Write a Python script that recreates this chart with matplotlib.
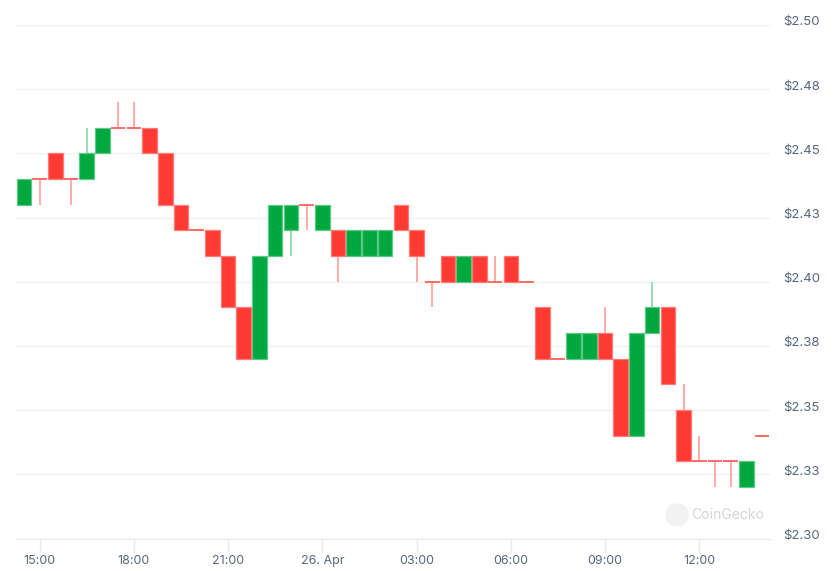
import matplotlib
matplotlib.use("Agg")
import matplotlib.pyplot as plt
import matplotlib.dates as mdates
import matplotlib.transforms as mtransforms
from matplotlib.patches import Circle
import numpy as np
import datetime as dt

# 30-minute candles, first one at 25 Apr 14:30
start = dt.datetime(2025, 4, 25, 14, 30)
opens = [2.43, 2.44, 2.45, 2.44, 2.44, 2.45, 2.46, 2.46, 2.46, 2.45, 2.43, 2.42,
         2.42, 2.41, 2.39, 2.37, 2.41, 2.42, 2.43, 2.42, 2.42, 2.41, 2.41, 2.41,
         2.43, 2.42, 2.40, 2.41, 2.40, 2.41, 2.40, 2.41, 2.40, 2.39, 2.37, 2.37,
         2.37, 2.38, 2.37, 2.34, 2.38, 2.39, 2.35, 2.33, 2.33, 2.33, 2.32, 2.34]
highs = [2.44, 2.44, 2.45, 2.44, 2.46, 2.46, 2.47, 2.47, 2.46, 2.45, 2.43, 2.42,
         2.42, 2.41, 2.39, 2.41, 2.43, 2.43, 2.43, 2.43, 2.42, 2.42, 2.42, 2.42,
         2.43, 2.42, 2.40, 2.41, 2.41, 2.41, 2.41, 2.41, 2.40, 2.39, 2.37, 2.38,
         2.38, 2.39, 2.37, 2.38, 2.40, 2.39, 2.36, 2.34, 2.33, 2.33, 2.33, 2.34]
lows = [2.43, 2.43, 2.44, 2.43, 2.44, 2.45, 2.46, 2.46, 2.45, 2.43, 2.42, 2.42,
        2.41, 2.39, 2.37, 2.37, 2.41, 2.41, 2.42, 2.42, 2.40, 2.41, 2.41, 2.41,
        2.42, 2.40, 2.39, 2.40, 2.40, 2.40, 2.40, 2.40, 2.40, 2.37, 2.37, 2.37,
        2.37, 2.37, 2.34, 2.34, 2.38, 2.36, 2.33, 2.33, 2.32, 2.32, 2.32, 2.34]
closes = [2.44, 2.44, 2.44, 2.44, 2.45, 2.46, 2.46, 2.46, 2.45, 2.43, 2.42, 2.42,
          2.41, 2.39, 2.37, 2.41, 2.43, 2.43, 2.43, 2.43, 2.41, 2.42, 2.42, 2.42,
          2.42, 2.41, 2.40, 2.40, 2.41, 2.40, 2.40, 2.40, 2.40, 2.37, 2.37, 2.38,
          2.38, 2.37, 2.34, 2.38, 2.39, 2.36, 2.33, 2.33, 2.33, 2.33, 2.33, 2.34]

yticks = [2.30, 2.325, 2.35, 2.375, 2.40, 2.425, 2.45, 2.475, 2.50]
ytick_labels = ["$2.30", "$2.33", "$2.35", "$2.38", "$2.40", "$2.43", "$2.45", "$2.48", "$2.50"]

GREEN, GREEN_EDGE, GREEN_WICK = "#00A83E", "#5CC786", "#7DD6A0"
RED, RED_EDGE, RED_WICK = "#FF3A33", "#FF7A75", "#FF9490"
LABEL = "#58667E"

plt.rcParams["font.family"] = ["Inter", "DejaVu Sans"]

times = [start + dt.timedelta(minutes=30 * i) for i in range(len(opens))]
x = mdates.date2num(times)
o = np.array(opens)
h = np.array(highs)
l = np.array(lows)
c = np.array(closes)
slot = 30 / 1440
width = slot * 0.93

fig = plt.figure(figsize=(8.36, 5.71), dpi=100)
ax = fig.add_axes([16 / 836, 1 - 538.5 / 571, 754 / 836, 513.5 / 571])

up = c > o
flat = c == o
down = c < o

# wicks
for xi, oi, hi, li, ci, u in zip(x, o, h, l, c, up):
    col = GREEN_WICK if u else RED_WICK
    if hi > max(oi, ci):
        ax.vlines(xi, max(oi, ci), hi, color=col, lw=1.1, zorder=2)
    if li < min(oi, ci):
        ax.vlines(xi, li, min(oi, ci), color=col, lw=1.1, zorder=2)

# bodies
ax.bar(x[up], c[up] - o[up], bottom=o[up], width=width, color=GREEN,
       edgecolor=GREEN_EDGE, linewidth=0.9, zorder=3)
ax.bar(x[down], c[down] - o[down], bottom=o[down], width=width, color=RED,
       edgecolor=RED_EDGE, linewidth=0.9, zorder=3)
ax.hlines(o[flat], x[flat] - width / 2, x[flat] + width / 2, color="#FF6A64", lw=1.4, zorder=3)

ax.set_xlim(x[0] - slot / 2, x[-1] + slot / 2)
ax.set_ylim(2.30, 2.50)

# x ticks every 3 hours
xt = [dt.datetime(2025, 4, 25, 15) + dt.timedelta(hours=3 * k) for k in range(8)]
ax.set_xticks(mdates.date2num(xt))
ax.set_xticklabels([t.strftime("%-d. %b") if t.hour == 0 else t.strftime("%H:%M") for t in xt])
ax.tick_params(axis="x", length=10, width=1, color="#E6E9EE", labelcolor=LABEL,
               labelsize=9, pad=2)

ax.set_yticks(yticks)
ax.set_yticklabels(ytick_labels)
ax.yaxis.tick_right()
ax.tick_params(axis="y", length=0, labelcolor=LABEL, labelsize=9.5, pad=9.5)
offset = mtransforms.ScaledTranslation(0, 4 / 100, fig.dpi_scale_trans)
for lab in ax.get_yticklabels():
    lab.set_transform(lab.get_transform() + offset)

ax.grid(axis="y", color="#EFF2F5", lw=1, zorder=0)
for s in ["top", "right", "left"]:
    ax.spines[s].set_visible(False)
ax.spines["bottom"].set_color("#E6E9EE")
ax.set_axisbelow(True)

# watermark
fig.patches.append(Circle((677, 571 - 515), 11, transform=None, color="#F2F2F2", zorder=1))
fig.text(691 / 836, 1 - 515 / 571, "CoinGecko", color="#D5D5D5", fontsize=10, va="center")

fig.savefig("out.png", dpi=100)
